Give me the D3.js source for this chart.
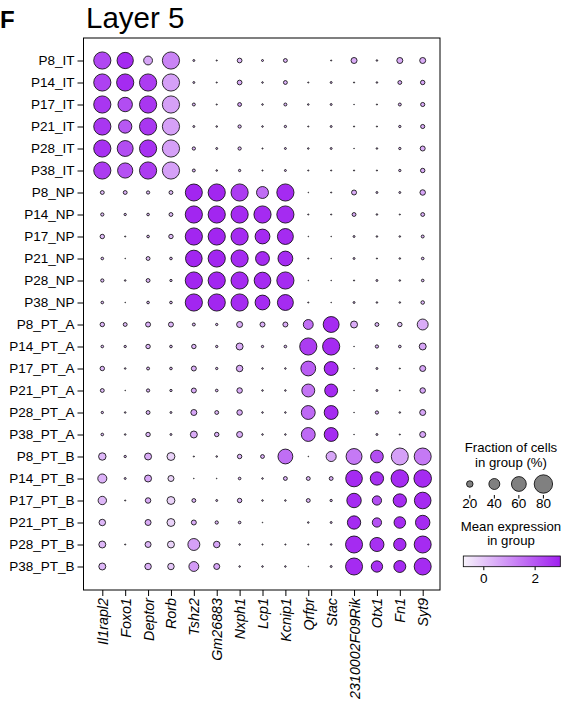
<!DOCTYPE html>
<html>
<head>
<meta charset="utf-8">
<script src="https://cdn.jsdelivr.net/npm/d3@7"></script>
<style>
  html, body { margin: 0; padding: 0; background: #fff; }
  svg { display: block; font-family: Arial, "Liberation Sans", sans-serif; }
</style>
</head>
<body>
<svg id="chart" width="565" height="702"></svg>
<script>
// ---------- data ----------
const genes = ["Il1rapl2","Foxo1","Deptor","Rorb","Tshz2","Gm26883","Nxph1","Lcp1","Kcnip1","Qrfpr","Stac","2310002F09Rik","Otx1","Fn1","Syt9"];
const groups = ["P8_IT","P14_IT","P17_IT","P21_IT","P28_IT","P38_IT",
  "P8_NP","P14_NP","P17_NP","P21_NP","P28_NP","P38_NP",
  "P8_PT_A","P14_PT_A","P17_PT_A","P21_PT_A","P28_PT_A","P38_PT_A",
  "P8_PT_B","P14_PT_B","P17_PT_B","P21_PT_B","P28_PT_B","P38_PT_B"];
// fraction of cells expressing (%), rows = groups, cols = genes
const fractionPct = [
  [73, 68, 30, 73, 4, 2, 13, 4, 10, 0, 2, 18, 3, 18, 18],
  [73, 73, 73, 73, 4, 2, 13, 3, 10, 2, 4, 2, 3, 10, 12],
  [73, 58, 73, 73, 7, 2, 10, 3, 7, 3, 4, 1, 2, 7, 11],
  [73, 52, 73, 73, 4, 3, 8, 3, 5, 2, 4, 2, 2, 5, 11],
  [73, 66, 73, 73, 8, 4, 8, 2, 4, 3, 4, 1, 3, 5, 14],
  [73, 62, 73, 73, 7, 3, 5, 2, 4, 2, 2, 2, 2, 5, 12],
  [10, 10, 8, 10, 72, 73, 73, 45, 73, 1, 2, 14, 4, 4, 16],
  [8, 5, 6, 10, 73, 73, 73, 73, 73, 2, 2, 10, 3, 2, 10],
  [12, 2, 6, 12, 73, 73, 73, 60, 66, 1, 1, 4, 3, 3, 7],
  [6, 1, 10, 6, 70, 73, 73, 55, 60, 2, 1, 4, 2, 3, 6],
  [8, 3, 10, 5, 73, 73, 73, 70, 73, 1, 1, 2, 4, 3, 6],
  [6, 1, 6, 6, 73, 73, 73, 60, 66, 2, 1, 4, 3, 3, 9],
  [12, 10, 14, 14, 7, 5, 18, 14, 14, 35, 66, 22, 10, 12, 40],
  [6, 5, 12, 6, 12, 5, 22, 5, 6, 73, 73, 1, 8, 6, 22],
  [12, 3, 7, 6, 14, 5, 20, 3, 3, 60, 55, 1, 4, 2, 18],
  [10, 1, 8, 5, 14, 6, 16, 3, 3, 50, 50, 1, 4, 1.5, 16],
  [5, 3, 10, 4, 18, 10, 16, 3, 3, 55, 55, 1, 8, 3, 18],
  [6, 3, 12, 4, 22, 12, 18, 3, 3, 55, 55, 1, 4, 2, 18],
  [24, 5, 22, 26, 2, 3, 12, 10, 60, 1, 36, 66, 49, 72, 72],
  [31, 4, 22, 18, 1, 1, 6, 3, 10, 10, 10, 70, 52, 75, 75],
  [28, 2, 16, 26, 10, 4, 12, 3, 3, 10, 5, 58, 32, 52, 70],
  [20, 0, 18, 26, 14, 8, 6, 1, 0, 3, 4, 52, 32, 43, 58],
  [22, 2, 18, 22, 45, 20, 3, 2, 2, 2, 3, 72, 56, 47, 72],
  [22, 0, 20, 20, 35, 18, 3, 3, 3, 1, 4, 72, 42, 45, 72]
];
// mean expression in group
const meanExpr = [
  [2.3, 2.8, 0.6, 1.2, 0.3, 0.3, 0.3, 0.3, 0.3, 0.0, 0.3, 0.5, 0.3, 0.5, 0.5],
  [2.4, 2.8, 2.5, 0.7, 0.3, 0.3, 0.5, 0.3, 0.4, 0.3, 0.3, 0.3, 0.3, 0.5, 0.6],
  [2.6, 2.2, 2.6, 0.7, 0.3, 0.3, 0.6, 0.3, 0.3, 0.3, 0.3, 0.3, 0.3, 0.3, 0.5],
  [2.6, 2.0, 2.6, 0.7, 0.3, 0.3, 0.3, 0.3, 0.3, 0.3, 0.3, 0.3, 0.3, 0.3, 0.5],
  [2.7, 2.2, 2.7, 0.7, 0.3, 0.3, 0.3, 0.3, 0.3, 0.3, 0.3, 0.3, 0.3, 0.3, 0.5],
  [2.5, 2.1, 2.5, 0.7, 0.3, 0.3, 0.3, 0.3, 0.3, 0.3, 0.3, 0.3, 0.3, 0.3, 0.5],
  [0.2, 0.4, 0.2, 0.2, 2.9, 2.9, 2.5, 1.6, 2.8, 0.3, 0.3, 0.5, 0.3, 0.3, 0.6],
  [0.2, 0.3, 0.3, 0.2, 2.9, 2.9, 2.8, 2.8, 2.8, 0.3, 0.3, 0.5, 0.3, 0.3, 0.4],
  [0.2, 0.3, 0.3, 0.2, 2.9, 2.9, 2.8, 2.8, 2.8, 0.3, 0.3, 0.3, 0.3, 0.3, 0.3],
  [0.3, 0.3, 0.2, 0.3, 2.9, 2.9, 2.8, 2.8, 2.8, 0.3, 0.3, 0.3, 0.3, 0.3, 0.3],
  [0.2, 0.3, 0.3, 0.3, 2.9, 2.9, 2.8, 2.8, 2.8, 0.3, 0.3, 0.3, 0.3, 0.3, 0.3],
  [0.3, 0.3, 0.3, 0.3, 2.9, 2.9, 2.8, 2.8, 2.8, 0.3, 0.3, 0.3, 0.3, 0.3, 0.3],
  [0.3, 0.2, 0.4, 0.3, 0.3, 0.3, 0.5, 0.4, 0.5, 1.6, 2.8, 0.5, 0.3, 0.1, 0.5],
  [0.3, 0.3, 0.3, 0.3, 0.3, 0.3, 0.5, 0.3, 0.3, 2.5, 2.8, 0.3, 0.3, 0.3, 0.6],
  [0.3, 0.3, 0.3, 0.3, 0.4, 0.3, 0.5, 0.3, 0.3, 1.9, 2.8, 0.3, 0.3, 0.3, 0.6],
  [0.2, 0.3, 0.3, 0.3, 0.5, 0.3, 0.5, 0.3, 0.3, 1.5, 2.8, 0.3, 0.3, 0.3, 0.6],
  [0.3, 0.3, 0.3, 0.3, 0.6, 0.3, 0.5, 0.3, 0.3, 1.7, 2.8, 0.3, 0.3, 0.3, 0.6],
  [0.3, 0.3, 0.3, 0.3, 0.5, 0.4, 0.5, 0.3, 0.3, 1.7, 2.8, 0.3, 0.3, 0.3, 0.6],
  [0.3, 0.3, 0.5, -0.2, 0.3, 0.3, 0.3, 0.4, 1.6, 0.3, 0.6, 1.4, 2.2, 0.7, 1.4],
  [0.4, 0.3, 0.6, -0.2, 0.3, 0.3, 0.3, 0.3, 0.4, 0.3, 0.4, 2.8, 2.7, 2.8, 2.8],
  [0.3, 0.3, 0.5, -0.2, 0.3, 0.3, 0.3, 0.3, 0.3, 0.3, 0.3, 2.8, 2.2, 2.8, 2.8],
  [0.3, 0.0, 0.5, -0.2, 0.5, 0.3, 0.3, 0.3, 0.0, 0.3, 0.3, 2.8, 2.1, 2.8, 2.8],
  [0.3, 0.3, 0.3, -0.2, 0.7, 0.6, 0.3, 0.3, 0.3, 0.3, 0.3, 2.8, 2.7, 2.8, 2.8],
  [0.3, 0.0, 0.4, 0.0, 0.8, 0.6, 0.3, 0.3, 0.3, 0.3, 0.2, 2.8, 2.7, 2.8, 2.8]
];
const sizeLegendTicks = [20, 40, 60, 80];
const colorTicks = [0, 2];
const colorDomain = [-0.78, 3.0];

// ---------- drawing ----------
const svg = d3.select("#chart");
const font = 'Arial, "Liberation Sans", sans-serif';

const frame = {left: 83.5, top: 38, right: 440, bottom: 590};
const x = d3.scalePoint().domain(genes).range([102.3, 422.7]);
const y = d3.scalePoint().domain(groups).range([60.5, 566.5]);
const rScale = f => f <= 0 ? 0 : 0.344 * Math.pow(f, 0.75);
const color = d3.scaleLinear().domain(colorDomain).range(["#f7f3fb", "#a020f0"]).clamp(true);

// panel letter and title
svg.append("text").attr("x", 0).attr("y", 28).attr("font-size", 24).attr("font-weight", "bold").text("F");
svg.append("text").attr("x", 86).attr("y", 27.5).attr("font-size", 29.5).text("Layer 5");

// frame
svg.append("rect")
  .attr("x", frame.left).attr("y", frame.top)
  .attr("width", frame.right - frame.left).attr("height", frame.bottom - frame.top)
  .attr("fill", "none").attr("stroke", "#000").attr("stroke-width", 1);

// axes
const yAxis = svg.append("g").attr("transform", `translate(${frame.left},0)`)
  .call(d3.axisLeft(y).tickSize(6).tickPadding(3));
yAxis.select(".domain").remove();
yAxis.selectAll("text").attr("font-size", 13.5).attr("font-family", font).attr("fill", "#000");
yAxis.selectAll("line").attr("stroke", "#000");

const xAxis = svg.append("g").attr("transform", `translate(0,${frame.bottom})`)
  .call(d3.axisBottom(x).tickSize(6).tickPadding(3));
xAxis.select(".domain").remove();
xAxis.selectAll("line").attr("stroke", "#000");
xAxis.selectAll("text")
  .attr("font-size", 14.3).attr("font-family", font).attr("font-style", "italic").attr("fill", "#000")
  .attr("transform", "rotate(-90)")
  .attr("text-anchor", "end")
  .attr("x", -8).attr("y", 0).attr("dy", "0.35em");

// dots
const cells = [];
groups.forEach((g, i) => genes.forEach((gene, j) => {
  cells.push({g, gene, f: fractionPct[i][j], e: meanExpr[i][j]});
}));
svg.append("g").selectAll("circle")
  .data(cells.filter(d => d.f > 0))
  .join("circle")
  .attr("cx", d => x(d.gene)).attr("cy", d => y(d.g))
  .attr("r", d => rScale(d.f))
  .attr("fill", d => color(d.e))
  .attr("stroke", "#000").attr("stroke-width", 0.8);

// ---------- legend: size ----------
const lgCx = 511;
const lgFont = 13.2;
svg.append("text").attr("x", lgCx).attr("y", 452).attr("text-anchor", "middle").attr("font-size", lgFont).text("Fraction of cells");
svg.append("text").attr("x", lgCx).attr("y", 466.5).attr("text-anchor", "middle").attr("font-size", lgFont).text("in group (%)");
const sx = d3.scalePoint().domain(sizeLegendTicks).range([469.8, 543.4]);
const sg = svg.append("g");
sg.selectAll("circle").data(sizeLegendTicks).join("circle")
  .attr("cx", d => sx(d)).attr("cy", 484).attr("r", d => rScale(d))
  .attr("fill", "#808080").attr("stroke", "#000").attr("stroke-width", 0.8);
sg.selectAll("line").data(sizeLegendTicks).join("line")
  .attr("x1", d => sx(d)).attr("x2", d => sx(d)).attr("y1", 495).attr("y2", 498.5)
  .attr("stroke", "#000").attr("stroke-width", 1);
sg.selectAll("text").data(sizeLegendTicks).join("text")
  .attr("x", d => sx(d)).attr("y", 507.5).attr("text-anchor", "middle").attr("font-size", 13.5)
  .text(d => d);

// ---------- legend: color ----------
svg.append("text").attr("x", lgCx).attr("y", 530.5).attr("text-anchor", "middle").attr("font-size", lgFont).text("Mean expression");
svg.append("text").attr("x", lgCx).attr("y", 545).attr("text-anchor", "middle").attr("font-size", lgFont).text("in group");
const cbX = d3.scaleLinear().domain(colorDomain).range([463.3, 560.3]);
const defs = svg.append("defs");
const grad = defs.append("linearGradient").attr("id", "cbgrad").attr("x1", "0%").attr("x2", "100%");
d3.range(0, 1.0001, 0.1).forEach(t => {
  grad.append("stop").attr("offset", (t * 100) + "%")
    .attr("stop-color", color(colorDomain[0] + t * (colorDomain[1] - colorDomain[0])));
});
svg.append("rect").attr("x", cbX.range()[0]).attr("y", 556)
  .attr("width", cbX.range()[1] - cbX.range()[0]).attr("height", 10.7)
  .attr("fill", "url(#cbgrad)").attr("stroke", "#000").attr("stroke-width", 0.8);
const cbAxis = svg.append("g").attr("transform", "translate(0,566.7)")
  .call(d3.axisBottom(cbX).tickValues(colorTicks).tickFormat(d3.format("d")).tickSize(3.5).tickPadding(3));
cbAxis.select(".domain").remove();
cbAxis.selectAll("line").attr("stroke", "#000");
cbAxis.selectAll("text").attr("font-size", 13.5).attr("font-family", font).attr("fill", "#000");
</script>
</body>
</html>
